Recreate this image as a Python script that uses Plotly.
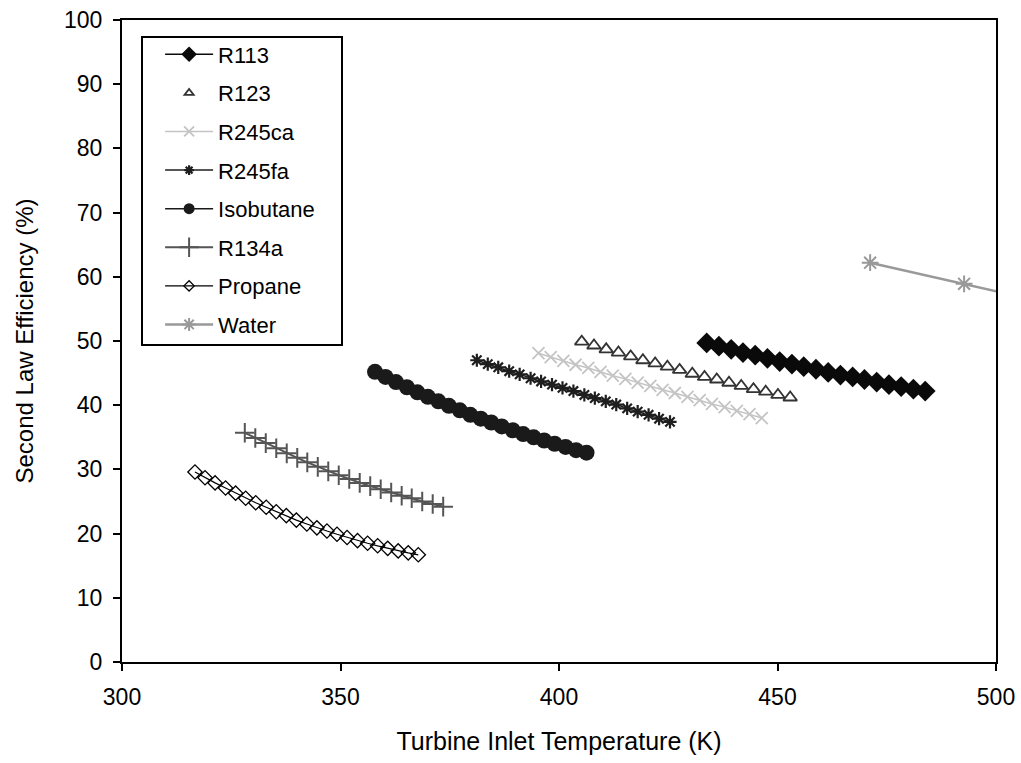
import plotly.graph_objects as go

# ---- data ----
r113_T = [433.8, 436.6, 439.4, 442.1, 444.9, 447.7, 450.5, 453.3, 456.0, 458.8,
          461.6, 464.4, 467.2, 469.9, 472.7, 475.5, 478.3, 481.1, 483.8]
r113_E = [49.7, 49.2, 48.7, 48.2, 47.8, 47.3, 46.8, 46.4, 46.0, 45.6,
          45.1, 44.7, 44.4, 44.0, 43.6, 43.2, 42.9, 42.5, 42.2]

r123_T = [405.2, 408.0, 410.8, 413.6, 416.4, 419.2, 422.0, 424.8, 427.6, 430.5,
          433.3, 436.1, 438.9, 441.7, 444.5, 447.3, 450.1, 452.9]
r123_E = [49.9, 49.3, 48.7, 48.2, 47.6, 47.0, 46.5, 46.0, 45.5, 44.9,
          44.4, 44.0, 43.5, 43.0, 42.5, 42.1, 41.6, 41.2]

r245ca_T = [395.3, 398.1, 401.0, 403.8, 406.7, 409.5, 412.3, 415.2, 418.0, 420.9,
            423.7, 426.5, 429.4, 432.2, 435.0, 437.9, 440.7, 443.6, 446.4]
r245ca_E = [48.1, 47.5, 46.9, 46.3, 45.8, 45.2, 44.6, 44.1, 43.5, 43.0,
            42.4, 41.9, 41.3, 40.8, 40.2, 39.7, 39.1, 38.6, 38.0]

r245fa_T = [381.2, 383.7, 386.1, 388.6, 391.0, 393.5, 395.9, 398.4, 400.8, 403.3,
            405.8, 408.2, 410.7, 413.1, 415.6, 418.0, 420.5, 422.9, 425.4]
r245fa_E = [47.0, 46.4, 45.9, 45.3, 44.8, 44.2, 43.7, 43.2, 42.7, 42.2,
            41.6, 41.1, 40.6, 40.1, 39.5, 39.0, 38.5, 37.9, 37.4]

isobutane_T = [357.9, 360.3, 362.7, 365.2, 367.6, 370.0, 372.4, 374.8, 377.3, 379.7,
               382.1, 384.5, 386.9, 389.4, 391.8, 394.2, 396.6, 399.0, 401.5, 403.9, 406.3]
isobutane_E = [45.2, 44.4, 43.6, 42.8, 42.0, 41.3, 40.6, 39.9, 39.2, 38.5,
               37.9, 37.3, 36.7, 36.1, 35.5, 35.0, 34.5, 34.0, 33.5, 33.0, 32.6]

r134a_T = [328.1, 330.5, 332.9, 335.3, 337.7, 340.1, 342.4, 344.8, 347.2, 349.6,
           352.0, 354.4, 356.8, 359.2, 361.6, 364.0, 366.3, 368.7, 371.1, 373.5]
r134a_E = [35.7, 34.9, 34.1, 33.3, 32.5, 31.8, 31.1, 30.4, 29.7, 29.1,
           28.5, 27.9, 27.4, 26.9, 26.4, 25.9, 25.5, 25.0, 24.6, 24.2]

propane_T = [316.7, 319.0, 321.3, 323.7, 326.0, 328.3, 330.6, 333.0, 335.3, 337.6,
             339.9, 342.3, 344.6, 346.9, 349.2, 351.5, 353.9, 356.2, 358.5, 360.8,
             363.2, 365.5, 367.8]
propane_E = [29.6, 28.7, 27.9, 27.1, 26.3, 25.5, 24.8, 24.1, 23.4, 22.8,
             22.1, 21.5, 20.9, 20.4, 19.9, 19.4, 18.9, 18.5, 18.1, 17.7,
             17.3, 17.0, 16.7]

water_T = [471.2, 492.7, 514.0]
water_E = [62.2, 58.9, 55.6]

x_ticks = [300, 350, 400, 450, 500]
y_ticks = [0, 10, 20, 30, 40, 50, 60, 70, 80, 90, 100]

FONT = "Liberation Sans, Arial, sans-serif"

# name, x, y, mode, line colour, line width, symbol, size in plot, size in legend, marker line width
series = [
    ("R113", r113_T, r113_E, "lines+markers", "#0a0a0a", 1.5, "diamond", 16, 12, 0),
    ("R123", r123_T, r123_E, "markers", "#333333", 1.5, "triangle-up-open", 12, 8, 1.8),
    ("R245ca", r245ca_T, r245ca_E, "lines+markers", "#c4c4c4", 1.5, "x-thin-open", 12, 10, 1.8),
    ("R245fa", r245fa_T, r245fa_E, "lines+markers", "#1e1e1e", 1.5, "asterisk-open", 11, 8, 2.2),
    ("Isobutane", isobutane_T, isobutane_E, "lines+markers", "#1a1a1a", 1.5, "circle", 16, 11, 0),
    ("R134a", r134a_T, r134a_E, "lines+markers", "#555555", 2, "cross-thin-open", 14, 14, 2),
    ("Propane", propane_T, propane_E, "lines+markers", "#000000", 1.2, "diamond-open", 11, 8, 1.3),
    ("Water", water_T, water_E, "lines+markers", "#999999", 2.5, "asterisk-open", 14, 11, 2),
]

fig = go.Figure()
for name, xs, ys, mode, col, lw, sym, size, lsize, mlw in series:
    mk = dict(symbol=sym, size=size, color=col, line=dict(width=mlw, color=col))
    fig.add_trace(go.Scatter(name=name, x=xs, y=ys, mode=mode, legendgroup=name,
                             showlegend=False, line=dict(color=col, width=lw), marker=mk))
    # legend entry with the smaller symbol used in the reference legend
    fig.add_trace(go.Scatter(name=name, x=[None], y=[None], mode=mode, legendgroup=name,
                             showlegend=True, line=dict(color=col, width=lw),
                             marker=dict(symbol=sym, size=lsize, color=col,
                                         line=dict(width=mlw, color=col))))

fig.update_layout(
    width=1021, height=763,
    margin=dict(l=122, r=25, t=20, b=101, autoexpand=False),
    paper_bgcolor="white", plot_bgcolor="white",
    font=dict(family=FONT, color="black"),
    showlegend=True,
    legend=dict(
        x=0.0436, y=0.979, xanchor="left", yanchor="top",
        bgcolor="rgba(0,0,0,0)", borderwidth=0,
        font=dict(size=22, family=FONT),
        itemwidth=48, tracegroupgap=7, itemsizing="trace",
    ),
    shapes=[dict(type="rect", xref="paper", yref="paper",
                 x0=(142 - 122) / 874, x1=(342 - 122) / 874,
                 y0=(662 - 345) / 642, y1=(662 - 37) / 642,
                 line=dict(color="black", width=2), fillcolor="white", layer="below")],
)

fig.update_xaxes(
    range=[300, 500], tickvals=x_ticks, ticktext=[str(v) for v in x_ticks],
    showgrid=False, zeroline=False, automargin=False,
    showline=True, linecolor="black", linewidth=2, mirror=True,
    ticks="outside", ticklen=7, tickwidth=1.5, tickcolor="black",
    tickfont=dict(size=23, family=FONT), ticklabelstandoff=6,
    title=dict(text="Turbine Inlet Temperature (K)", font=dict(size=25, family=FONT), standoff=24),
)
fig.update_yaxes(
    range=[0, 100], tickvals=y_ticks, ticktext=[str(v) for v in y_ticks],
    showgrid=False, zeroline=False, automargin=False,
    showline=True, linecolor="black", linewidth=2, mirror=True,
    ticks="outside", ticklen=7, tickwidth=1.5, tickcolor="black",
    tickfont=dict(size=23, family=FONT), ticklabelstandoff=6,
    title=dict(text="Second Law Efficiency (%)", font=dict(size=24, family=FONT), standoff=24),
)

fig.write_html("out.html")
